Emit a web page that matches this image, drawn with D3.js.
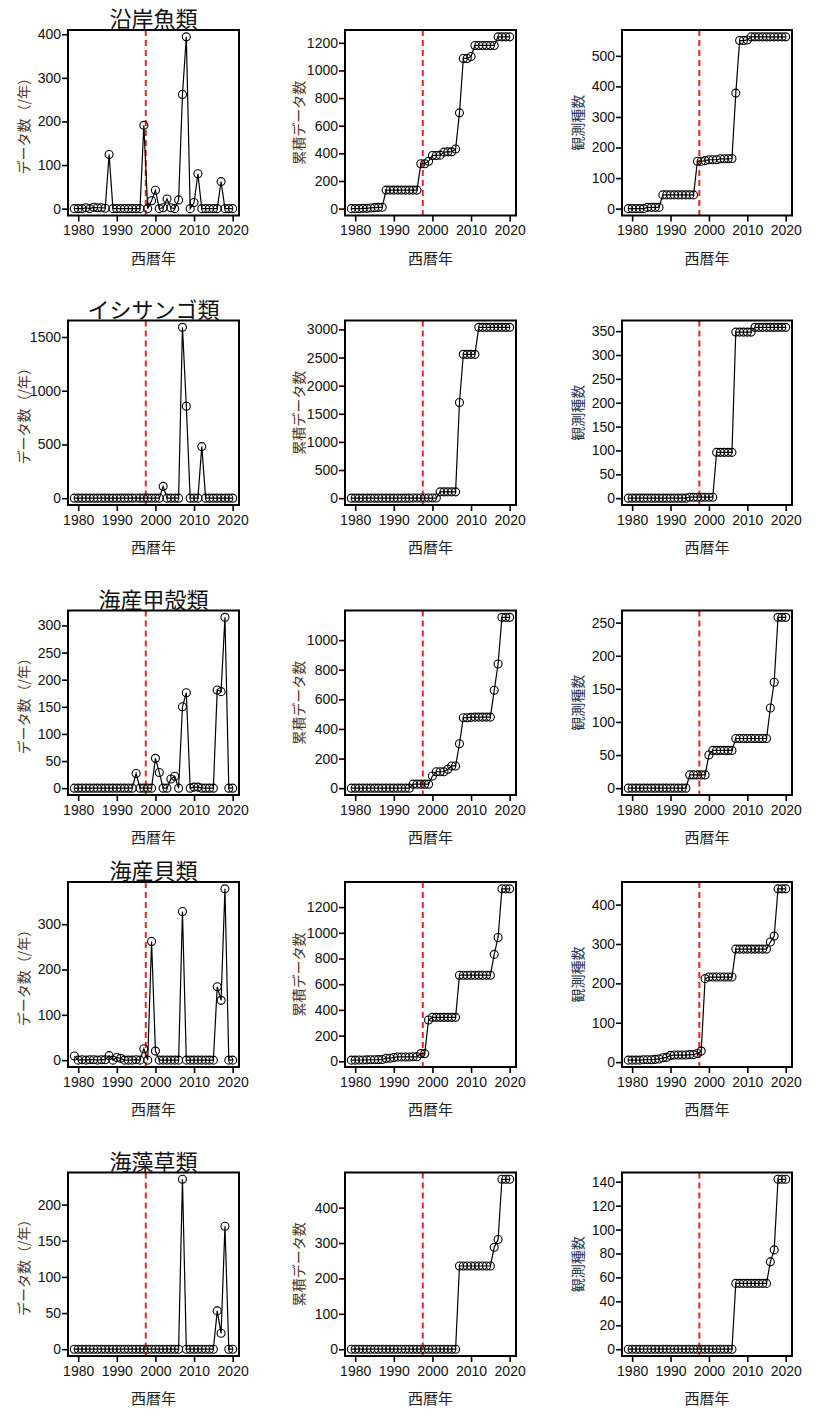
<!DOCTYPE html>
<html><head><meta charset="utf-8">
<script src="https://cdn.jsdelivr.net/npm/d3@7"></script>
<style>body{margin:0;background:#fff}svg{display:block}</style>
</head><body>
<script>
const years = [1979,1980,1981,1982,1983,1984,1985,1986,1987,1988,
  1989,1990,1991,1992,1993,1994,1995,1996,1997,1998,
  1999,2000,2001,2002,2003,2004,2005,2006,2007,2008,
  2009,2010,2011,2012,2013,2014,2015,2016,2017,2018,
  2019,2020];
const xTicks = [1980,1990,2000,2010,2020];
const cutYear = 1997.5;

const groups = ["沿岸魚類","イシサンゴ類","海産甲殻類","海産貝類","海藻草類"];
const yLabels = ["データ数（/年）","累積データ数","観測種数"];
const xLabel = "西暦年";

// 沿岸魚類
const fishPerYear = [0,0,0,2,0,3,2,2,1,124, 0,0,0,0,0,0,0,0,191,0, 18,42,0,2,22,2,0,20,262,394, 0,14,80,0,0,0,0,0,62,0, 0,0];
const fishCum = [0,0,0,2,2,5,7,9,10,134, 134,134,134,134,134,134,134,134,325,325, 343,385,385,387,409,411,411,431,693,1087, 1087,1101,1181,1181,1181,1181,1181,1181,1243,1243, 1243,1243];
const fishSpecies = [0,0,0,0,0,4,4,4,4,45, 45,45,45,45,45,45,45,45,155,155, 157,160,160,160,163,163,163,164,378,550, 550,552,562,562,562,562,562,562,562,562, 562,562];
// イシサンゴ類
const coralPerYear = [0,0,0,0,0,0,0,0,0,0, 0,0,0,0,0,0,2,0,0,0, 0,0,0,110,0,0,0,0,1590,855, 0,0,0,480,0,0,0,0,0,0, 0,0];
const coralCum = [0,0,0,0,0,0,0,0,0,0, 0,0,0,0,0,0,2,2,2,2, 2,2,2,112,112,112,112,112,1702,2557, 2557,2557,2557,3037,3037,3037,3037,3037,3037,3037, 3037,3037];
const coralSpecies = [0,0,0,0,0,0,0,0,0,0, 0,0,0,0,0,0,2,2,2,2, 2,2,2,96,96,96,96,96,348,348, 348,348,348,358,358,358,358,358,358,358, 358,358];
// 海産甲殻類
const crustPerYear = [0,0,0,0,0,0,0,0,0,0, 0,0,0,0,0,0,27,0,0,0, 0,55,29,0,0,17,22,0,150,176, 0,2,2,0,0,0,0,181,178,315, 0,0];
const crustCum = [0,0,0,0,0,0,0,0,0,0, 0,0,0,0,0,0,27,27,27,27, 27,82,111,111,111,128,150,150,300,476, 476,478,480,480,480,480,480,661,839,1154, 1154,1154];
const crustSpecies = [0,0,0,0,0,0,0,0,0,0, 0,0,0,0,0,0,20,20,20,20, 20,50,57,57,57,57,57,57,75,75, 75,75,75,75,75,75,75,121,160,258, 258,258];
// 海産貝類
const shellPerYear = [9,0,1,0,1,1,0,1,1,10, 0,6,4,0,0,0,1,0,25,0, 262,20,0,0,0,0,0,0,328,0, 0,0,0,0,0,0,0,162,132,378, 0,0];
const shellCum = [9,9,10,10,11,12,12,13,14,24, 24,30,34,34,34,34,35,35,60,60, 322,342,342,342,342,342,342,342,670,670, 670,670,670,670,670,670,670,832,964,1342, 1342,1342];
const shellSpecies = [5,5,5,5,6,6,6,7,8,11, 12,17,18,18,18,18,19,19,22,28, 212,216,216,216,216,216,216,216,287,287, 287,287,287,287,287,287,287,305,320,440, 440,440];
// 海藻草類
const weedPerYear = [0,0,0,0,0,0,0,0,0,0, 0,0,0,0,0,0,0,0,0,0, 0,0,0,0,0,0,0,0,235,0, 0,0,0,0,0,0,0,53,22,170, 0,0];
const weedCum = [0,0,0,0,0,0,0,0,0,0, 0,0,0,0,0,0,0,0,0,0, 0,0,0,0,0,0,0,0,235,235, 235,235,235,235,235,235,235,288,310,480, 480,480];
const weedSpecies = [0,0,0,0,0,0,0,0,0,0, 0,0,0,0,0,0,0,0,0,0, 0,0,0,0,0,0,0,0,55,55, 55,55,55,55,55,55,55,73,83,142, 142,142];

const yTicks = [
  [[0,100,200,300,400],[0,200,400,600,800,1000,1200],[0,100,200,300,400,500]],
  [[0,500,1000,1500],[0,500,1000,1500,2000,2500,3000],[0,50,100,150,200,250,300,350]],
  [[0,50,100,150,200,250,300],[0,200,400,600,800,1000],[0,50,100,150,200,250]],
  [[0,100,200,300],[0,200,400,600,800,1000,1200],[0,100,200,300,400]],
  [[0,50,100,150,200],[0,100,200,300,400],[0,20,40,60,80,100,120,140]]
];
const series = [
  [fishPerYear, fishCum, fishSpecies],
  [coralPerYear, coralCum, coralSpecies],
  [crustPerYear, crustCum, crustSpecies],
  [shellPerYear, shellCum, shellSpecies],
  [weedPerYear, weedCum, weedSpecies]
];

// layout
const W = 830, H = 1422;
const colX = [[68,239],[345,516],[622,792]];
const rowY = [[30,215.5],[320.5,505],[610.5,795],[882,1067],[1172.5,1356]];
const yLabCx = [23, 298, 577];
const yLabColor = ["#4a3424","#4a3424","#26304a"];

const svg = d3.select("body").append("svg").attr("width", W).attr("height", H);
const numFont = "'Liberation Sans', Arial, sans-serif";
const jpFont = "'Noto Sans CJK JP', sans-serif";

const x0 = d3.min(years), x1 = d3.max(years), xp = (x1 - x0) * 0.04;

series.forEach((rowSeries, r) => {
  const [top, bottom] = rowY[r];
  rowSeries.forEach((vals, c) => {
    const [left, right] = colX[c];
    const x = d3.scaleLinear().domain([x0 - xp, x1 + xp]).range([left, right]);
    const ymax = d3.max(vals), ymin = d3.min(vals), yp = (ymax - ymin) * 0.04;
    const y = d3.scaleLinear().domain([ymin - yp, ymax + yp]).range([bottom, top]);
    const g = svg.append("g");

    const ax = g.append("g").attr("transform", `translate(0,${bottom})`)
      .call(d3.axisBottom(x).tickValues(xTicks).tickFormat(d3.format("d")).tickSize(6).tickPadding(4));
    const ay = g.append("g").attr("transform", `translate(${left},0)`)
      .call(d3.axisLeft(y).tickValues(yTicks[r][c]).tickFormat(d3.format("d")).tickSize(6).tickPadding(1));
    [ax, ay].forEach(a => {
      a.select(".domain").remove();
      a.selectAll(".tick line").attr("stroke", "#000").attr("stroke-width", 1.6);
      a.selectAll(".tick text").attr("fill", "#111").style("font-family", numFont).style("font-size", "14px");
    });

    g.append("line")
      .attr("x1", x(cutYear)).attr("x2", x(cutYear))
      .attr("y1", top).attr("y2", bottom)
      .attr("stroke", "#e8261f").attr("stroke-width", 2).attr("stroke-dasharray", "6,4");

    const pts = years.map((yr, i) => [yr, vals[i]]);
    g.append("path").datum(pts)
      .attr("fill", "none").attr("stroke", "#000").attr("stroke-width", 1.2)
      .attr("d", d3.line().x(d => x(d[0])).y(d => y(d[1])));
    g.selectAll("circle.pt").data(pts).enter().append("circle")
      .attr("class", "pt")
      .attr("cx", d => x(d[0])).attr("cy", d => y(d[1])).attr("r", 4)
      .attr("fill", "none").attr("stroke", "#000").attr("stroke-width", 1.1);

    g.append("rect").attr("x", left).attr("y", top)
      .attr("width", right - left).attr("height", bottom - top)
      .attr("fill", "none").attr("stroke", "#000").attr("stroke-width", 2);

    g.append("text").attr("x", (left + right) / 2).attr("y", bottom + 48)
      .attr("text-anchor", "middle").style("font-family", jpFont).style("font-size", "15px")
      .attr("fill", "#222").text(xLabel);

    g.append("text")
      .attr("transform", `translate(${yLabCx[c]},${(top + bottom) / 2}) rotate(-90)`)
      .attr("text-anchor", "middle").attr("dominant-baseline", "central")
      .style("font-family", jpFont).style("font-size", "14px")
      .attr("fill", yLabColor[c]).text(yLabels[c]);

    if (c === 0) {
      g.append("text").attr("x", (left + right) / 2).attr("y", top - 3)
        .attr("text-anchor", "middle").style("font-family", jpFont).style("font-size", "22px")
        .attr("fill", "#111").text(groups[r]);
    }
  });
});
</script>
</body></html>
